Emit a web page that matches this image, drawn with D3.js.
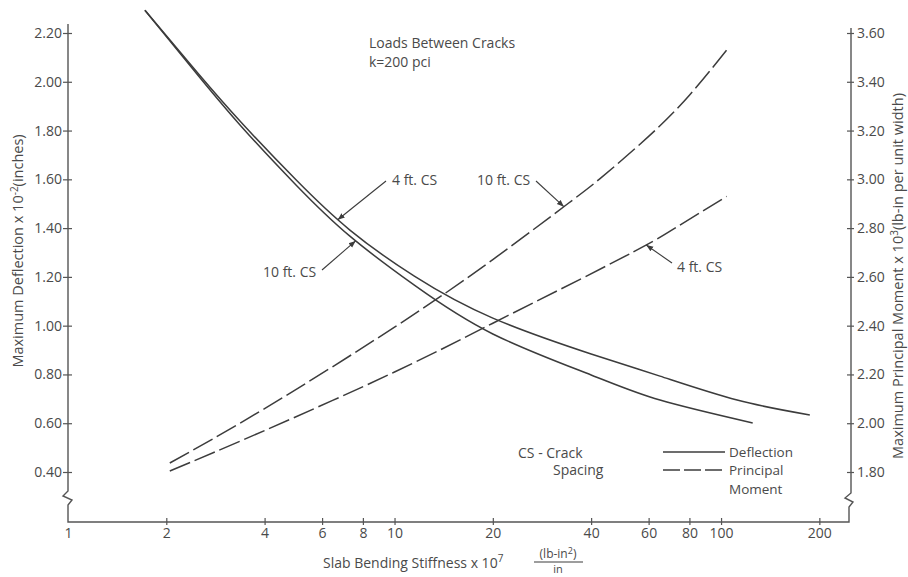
<!DOCTYPE html>
<html><head><meta charset="utf-8">
<script src="https://cdn.jsdelivr.net/npm/d3@7"></script>
<style>
html,body{margin:0;padding:0;background:#fff;}
svg{display:block;}
text{font-family:"Open Sans",sans-serif;fill:#4a4a4a;}
</style>
</head><body>
<svg id="c" width="908" height="577"></svg>
<script>
// ---- data ----
const xTicks = [1, 2, 4, 6, 8, 10, 20, 40, 60, 80, 100, 200];
const leftTicks = [0.40, 0.60, 0.80, 1.00, 1.20, 1.40, 1.60, 1.80, 2.00, 2.20];
const rightTicks = [1.80, 2.00, 2.20, 2.40, 2.60, 2.80, 3.00, 3.20, 3.40, 3.60];

// Deflection (x 10^-2 in), solid lines
const stiffDefl10 = [1.72, 2.5, 3.4, 5, 7.3, 11.5, 20, 40, 65, 125];
const defl10 = [2.293, 2.027, 1.816, 1.576, 1.367, 1.166, 0.966, 0.798, 0.695, 0.601];
const stiffDefl4 = [1.72, 2.5, 3.4, 5, 7.3, 11.5, 20, 40, 65, 112, 187];
const defl4 = [2.293, 2.035, 1.832, 1.597, 1.392, 1.203, 1.031, 0.884, 0.793, 0.695, 0.634];

// Principal moment (x 10^3 lb-in per unit width), dashed lines
const stiffMom10 = [2.05, 4, 10, 20, 34, 42.6, 60, 80, 104];
const mom10 = [1.837, 2.06, 2.394, 2.671, 2.901, 3.003, 3.176, 3.345, 3.53];
const stiffMom4 = [2.05, 4, 10, 20, 37, 58.9, 73.3, 104];
const mom4 = [1.804, 1.97, 2.21, 2.41, 2.59, 2.73, 2.805, 2.93];

// ---- chart ----
const svg = d3.select('#c');
const ink = '#3c3c3c', axisInk = '#555';
const x = d3.scaleLog().domain([1, 250]).range([68, 851]);
const yL = d3.scaleLinear().domain([0.40, 2.20]).range([472, 33]);
const yR = d3.scaleLinear().domain([1.80, 3.60]).range([472, 33]);

// axis frame with breaks
const fr = d3.path();
fr.moveTo(x(1), 24); fr.lineTo(x(1), 491);
fr.lineTo(x(1) - 5, 496); fr.lineTo(x(1) + 4, 500); fr.lineTo(x(1), 505);
fr.lineTo(x(1), 522); fr.lineTo(849, 522); fr.lineTo(849, 507);
fr.lineTo(853, 502); fr.lineTo(845, 498); fr.lineTo(851, 493);
fr.lineTo(851, 28);
svg.append('path').attr('d', fr.toString()).attr('fill', 'none')
  .attr('stroke', axisInk).attr('stroke-width', 1.4);

const fmt2 = d3.format('.2f');
const gL = svg.append('g').attr('transform', `translate(${x(1)},0)`)
  .call(d3.axisLeft(yL).tickValues(leftTicks).tickSize(5).tickPadding(1).tickFormat(fmt2));
gL.select('.domain').remove();
gL.selectAll('.tick line').attr('x1', 4).attr('x2', -5).attr('stroke', axisInk).attr('stroke-width', 1.2);
gL.selectAll('.tick text').attr('font-size', 14).attr('font-family', '"Open Sans",sans-serif').attr('fill', '#4a4a4a');

const gR = svg.append('g').attr('transform', 'translate(851,0)')
  .call(d3.axisRight(yR).tickValues(rightTicks).tickSize(4).tickPadding(2).tickFormat(fmt2));
gR.select('.domain').remove();
gR.selectAll('.tick line').attr('x1', -4).attr('x2', 3).attr('stroke', axisInk).attr('stroke-width', 1.2);
gR.selectAll('.tick text').attr('font-size', 14).attr('font-family', '"Open Sans",sans-serif').attr('fill', '#4a4a4a');

const gB = svg.append('g').attr('transform', 'translate(0,522)')
  .call(d3.axisBottom(x).tickValues(xTicks).tickSize(4).tickPadding(2).tickFormat(d3.format('d')));
gB.select('.domain').remove();
gB.selectAll('.tick line').attr('y1', d => d === 1 ? 0 : -4).attr('y2', d => d === 1 ? 0 : 3)
  .attr('stroke', axisInk).attr('stroke-width', 1.2);
gB.selectAll('.tick text').attr('font-size', 14).attr('font-family', '"Open Sans",sans-serif').attr('fill', '#4a4a4a');

// curves
const mk = (xs, ys, yScale) => xs.map((v, i) => [x(v), yScale(ys[i])]);
const line = d3.line().curve(d3.curveNatural);
function draw(pts, dashed) {
  return svg.append('path').attr('d', line(pts)).attr('fill', 'none')
    .attr('stroke', ink).attr('stroke-width', 1.5)
    .attr('stroke-dasharray', dashed ? '22,5' : null).node();
}
const pD10 = draw(mk(stiffDefl10, defl10, yL), false);
const pD4 = draw(mk(stiffDefl4, defl4, yL), false);
const pM10 = draw(mk(stiffMom10, mom10, yR), true);
const pM4 = draw(mk(stiffMom4, mom4, yR), true);

function pointAtX(node, px) {
  let lo = 0, hi = node.getTotalLength();
  for (let k = 0; k < 40; k++) {
    const mid = (lo + hi) / 2;
    if (node.getPointAtLength(mid).x < px) lo = mid; else hi = mid;
  }
  return node.getPointAtLength(lo);
}

// annotations: [label, textX, textBaseline, tailX, tailY, path, tipStiffness]
svg.append('defs').append('marker').attr('id', 'ah').attr('viewBox', '0 0 10 10')
  .attr('refX', 10).attr('refY', 5).attr('markerWidth', 7).attr('markerHeight', 7)
  .attr('markerUnits', 'userSpaceOnUse').attr('orient', 'auto')
  .append('path').attr('d', 'M0,1 L10,5 L0,9 Z').attr('fill', ink);
const notes = [
  ['4 ft. CS', 392, 185, 386, 181, pD4, 6.7],
  ['10 ft. CS', 263, 277, 322, 270, pD10, 7.6],
  ['10 ft. CS', 477, 185, 536, 181, pM10, 33],
  ['4 ft. CS', 677, 272, 672, 263, pM4, 59]
];
notes.forEach(([t, tx, ty, ax, ay, node, sv]) => {
  const p = pointAtX(node, x(sv));
  svg.append('line').attr('x1', ax).attr('y1', ay).attr('x2', p.x).attr('y2', p.y)
    .attr('stroke', ink).attr('stroke-width', 1.1).attr('marker-end', 'url(#ah)');
  svg.append('text').attr('x', tx).attr('y', ty).attr('font-size', 14).text(t);
});

// top note
svg.append('text').attr('x', 369).attr('y', 48).attr('font-size', 14).text('Loads Between Cracks');
svg.append('text').attr('x', 369).attr('y', 67).attr('font-size', 14).text('k=200 pci');

// legend
svg.append('text').attr('x', 518).attr('y', 458).attr('font-size', 14).text('CS - Crack');
svg.append('text').attr('x', 553).attr('y', 475).attr('font-size', 14).text('Spacing');
svg.append('line').attr('x1', 663).attr('x2', 725).attr('y1', 452).attr('y2', 452)
  .attr('stroke', ink).attr('stroke-width', 1.5);
svg.append('line').attr('x1', 663).attr('x2', 725).attr('y1', 470).attr('y2', 470)
  .attr('stroke', ink).attr('stroke-width', 1.5).attr('stroke-dasharray', '17,4');
svg.append('text').attr('x', 729).attr('y', 457).attr('font-size', 13.5).text('Deflection');
svg.append('text').attr('x', 729).attr('y', 475).attr('font-size', 13.5).text('Principal');
svg.append('text').attr('x', 729).attr('y', 494).attr('font-size', 13.5).text('Moment');

// axis titles
const tl = svg.append('text').attr('transform', 'translate(23,251) rotate(-90)')
  .attr('text-anchor', 'middle').attr('font-size', 14.5);
tl.append('tspan').text('Maximum Deflection x 10');
tl.append('tspan').attr('dy', -5).attr('font-size', 10).text('-2');
tl.append('tspan').attr('dy', 5).text('(inches)');

const tr = svg.append('text').attr('transform', 'translate(903,276) rotate(-90)')
  .attr('text-anchor', 'middle').attr('font-size', 14.5);
tr.append('tspan').text('Maximum Principal Moment x 10');
tr.append('tspan').attr('dy', -5).attr('font-size', 10).text('3');
tr.append('tspan').attr('dy', 5).text('(lb-in per unit width)');

const tb = svg.append('text').attr('x', 323).attr('y', 568).attr('font-size', 14);
tb.append('tspan').text('Slab Bending Stiffness x 10');
tb.append('tspan').attr('dy', -6).attr('font-size', 10).text('7');
const num = svg.append('text').attr('x', 558).attr('y', 558).attr('text-anchor', 'middle').attr('font-size', 12);
num.append('tspan').text('(lb-in');
num.append('tspan').attr('dy', -4).attr('font-size', 9).text('2');
num.append('tspan').attr('dy', 4).text(')');
svg.append('line').attr('x1', 534).attr('x2', 583).attr('y1', 562).attr('y2', 562)
  .attr('stroke', ink).attr('stroke-width', 1.2);
svg.append('text').attr('x', 558).attr('y', 573).attr('text-anchor', 'middle').attr('font-size', 11).text('in');
</script>
</body></html>
